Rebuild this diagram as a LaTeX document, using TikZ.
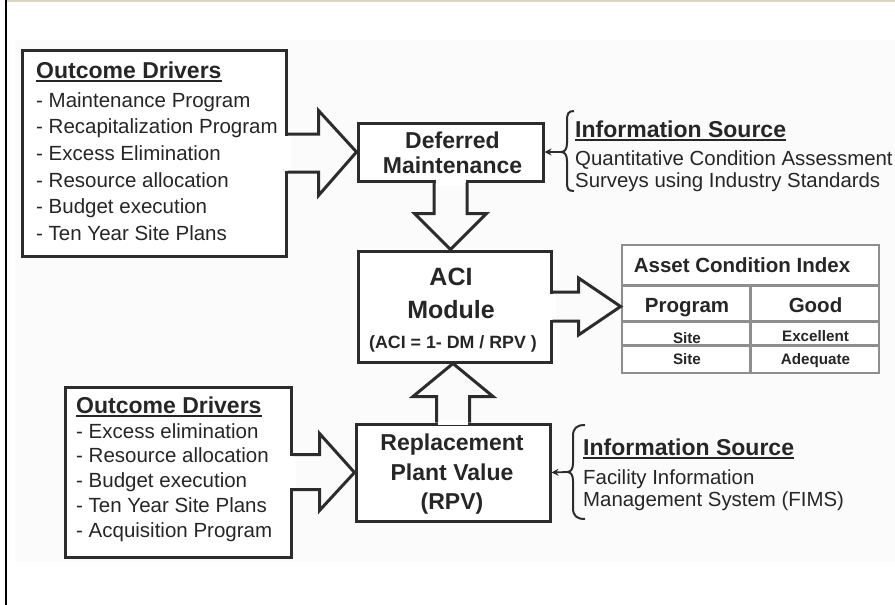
\documentclass[tikz,border=0pt]{standalone}
\usepackage{fontspec}
\setmainfont{Liberation Sans}
\usetikzlibrary{calc,arrows.meta}
\definecolor{ink}{HTML}{262626}
\definecolor{lineink}{HTML}{2C2C2C}
\definecolor{tgray}{HTML}{8E8E8E}
\definecolor{beige}{HTML}{DCD4C4}
\definecolor{bgtone}{HTML}{FBFBFB}
\begin{document}
\begin{tikzpicture}[x=1pt,y=-1pt,
  box/.style={draw=lineink, line width=3pt, fill=white, inner sep=0pt},
  blk/.style={draw=lineink, line width=3pt, line join=miter},
  ttl/.style={text=ink, inner sep=0pt, font=\bfseries\fontsize{23}{26}\selectfont},
  lst/.style={text=ink, inner sep=0pt, font=\fontsize{20.5}{25}\selectfont},
  src/.style={text=ink, inner sep=0pt, font=\fontsize{20.4}{24}\selectfont},
  bt/.style={text=ink, inner sep=0pt, font=\bfseries\fontsize{23}{26}\selectfont},
  bbig/.style={text=ink, inner sep=0pt, font=\bfseries\fontsize{25}{28}\selectfont},
  bsmall/.style={text=ink, inner sep=0pt, font=\bfseries\fontsize{17.8}{20}\selectfont},
  tbig/.style={text=ink, inner sep=0pt, font=\bfseries\fontsize{20.5}{24}\selectfont},
  tsmall/.style={text=ink, inner sep=0pt, font=\bfseries\fontsize{15.2}{18}\selectfont},
  uline/.style={draw=ink, line width=2pt},
  tline/.style={draw=tgray, line width=2.4pt},
  brc/.style={draw=lineink, line width=2pt},
  sarr/.style={draw=lineink, line width=1.8pt, -{Stealth[length=7pt,width=7pt]}}]
\useasboundingbox (0,0) rectangle (895,605);
% page frame
\fill[white] (0,0) rectangle (895,605);
\fill[bgtone] (15,40) rectangle (895,562);
\draw[beige, line width=2pt] (6,1) -- (895,1);
\draw[black, line width=2pt] (6,0) -- (6,605);

% main boxes
\node[box, minimum width=264pt, minimum height=206pt] (od1) at (154,153) {};
\node[box, minimum width=185pt, minimum height=58pt] (dm) at (450.5,152) {};
\node[box, minimum width=193pt, minimum height=111pt] (aci) at (454.5,306.5) {};
\node[box, minimum width=194pt, minimum height=97pt] (rpv) at (453,472.5) {};
\node[box, minimum width=226pt, minimum height=170pt] (od2) at (178,472) {};
\node[draw=tgray, line width=2.8pt, fill=white, inner sep=0pt, minimum width=257pt, minimum height=128pt] (tbl) at (750.5,309) {};

% block arrows
\fill[white] ($(od1.east)+(-2.5,-17.5)$) rectangle ($(od1.east)+(3,17.5)$);
\draw[blk] ($(od1.east)+(0,-19)$) -- ++(31,0) -- ++(0,-23.5) -- (dm.west)
  -- ($(od1.east)+(31,42.5)$) -- ++(0,-23.5) -- ($(od1.east)+(0,19)$);

\fill[white] ($(dm.south)+(-15,-2.5)$) rectangle ($(dm.south)+(15,3)$);
\draw[blk] ($(dm.south)+(-16.5,0)$) -- ++(0,31) -- ++(-19.5,0) -- (dm.south |- aci.north)
  -- ($(dm.south)+(36,31)$) -- ++(-19.5,0) -- ($(dm.south)+(16.5,0)$);

\fill[white] ($(rpv.north)+(-15,-3)$) rectangle ($(rpv.north)+(15,2.5)$);
\draw[blk] ($(rpv.north)+(-16.5,0)$) -- ++(0,-26) -- ++(-23.5,0) -- (rpv.north |- aci.south)
  -- ($(rpv.north)+(40,-26)$) -- ++(-23.5,0) -- ($(rpv.north)+(16.5,0)$);

\fill[white] ($(aci.east)+(-2.5,-13)$) rectangle ($(aci.east)+(3,13)$);
\draw[blk] ($(aci.east)+(0,-14.5)$) -- ++(26,0) -- ++(0,-14) -- (aci.east -| tbl.west)
  -- ($(aci.east)+(26,28.5)$) -- ++(0,-14) -- ($(aci.east)+(0,14.5)$);

\fill[white] ($(od2.east)+(-2.5,-16)$) rectangle ($(od2.east)+(3,16)$);
\draw[blk] ($(od2.east)+(0,-17.5)$) -- ++(27,0) -- ++(0,-21) -- (rpv.west)
  -- ($(od2.east)+(27,38.5)$) -- ++(0,-21) -- ($(od2.east)+(0,17.5)$);

% outcome drivers 1
\node[ttl, anchor=base west] (od1t) at (36,78) {Outcome Drivers};
\draw[uline] ($(od1t.base west)+(0,3)$) -- ($(od1t.base east)+(0,3)$);
\foreach \t [count=\i] in {Maintenance Program, Recapitalization Program, Excess Elimination, Resource allocation, Budget execution, Ten Year Site Plans}
  \node[lst, anchor=base west] (od1l\i) at (36,{107+26.7*(\i-1)}) {- \t};

% outcome drivers 2
\node[ttl, anchor=base west] (od2t) at (76,413) {Outcome Drivers};
\draw[uline] ($(od2t.base west)+(0,3)$) -- ($(od2t.base east)+(0,3)$);
\foreach \t [count=\i] in {Excess elimination, Resource allocation, Budget execution, Ten Year Site Plans, Acquisition Program}
  \node[lst, anchor=base west] (od2l\i) at (76,{438+24.8*(\i-1)}) {- \t};

% box texts
\node[bt, anchor=base] (dmt1) at (452.5,148) {Deferred};
\node[bt, anchor=base] (dmt2) at (452.5,173) {Maintenance};
\node[bbig, anchor=base] (acit1) at (451,285) {ACI};
\node[bbig, anchor=base] (acit2) at (451,318) {Module};
\node[bsmall, anchor=base] (acit3) at (453,348) {(ACI = 1- DM / RPV )};
\node[bt, anchor=base] (rpvt1) at (452,450) {Replacement};
\node[bt, anchor=base] (rpvt2) at (452,480) {Plant Value};
\node[bt, anchor=base] (rpvt3) at (452,509) {(RPV)};

% table
\draw[tline] ($(tbl.north west)+(0,42)$) -- ($(tbl.north east)+(0,42)$);
\draw[tline] ($(tbl.north west)+(0,78)$) -- ($(tbl.north east)+(0,78)$);
\draw[tline] ($(tbl.north west)+(0,102)$) -- ($(tbl.north east)+(0,102)$);
\draw[tline] ($(tbl.north west)+(130,42)$) -- ($(tbl.south west)+(130,0)$);
\node[tbig, anchor=base] (tt) at (742,272) {Asset Condition Index};
\node[tbig, anchor=base] (th1) at (687,312) {Program};
\node[tbig, anchor=base] (th2) at (815.5,312) {Good};
\node[tsmall, anchor=base] (tc11) at (687,343) {Site};
\node[tsmall, anchor=base] (tc12) at (815.5,341) {Excellent};
\node[tsmall, anchor=base] (tc21) at (687,364) {Site};
\node[tsmall, anchor=base] (tc22) at (815.5,364) {Adequate};

% information source 1
\coordinate (b1) at (561,152);
\draw[brc] (574,111) .. controls (568,111) and (567,114) .. (567,121) -- (567,143)
  .. controls (567,149) and (565,152) .. (b1)
  .. controls (565,152) and (567,155) .. (567,161) -- (567,182)
  .. controls (567,189) and (568,191) .. (574,191);
\draw[sarr] (b1) -- (dm.east);
\node[ttl, anchor=base west] (is1t) at (575,137) {Information Source};
\draw[uline] ($(is1t.base west)+(0,3)$) -- ($(is1t.base east)+(0,3)$);
\node[src, anchor=base west] (is1a) at (575,165) {Quantitative Condition Assessment};
\node[src, anchor=base west] (is1b) at (575,187) {Surveys using Industry Standards};

% information source 2
\coordinate (b2) at (567,472);
\draw[brc] (585,425) .. controls (577,425) and (573,428) .. (573,436) -- (573,463)
  .. controls (573,469) and (571,472) .. (b2)
  .. controls (571,472) and (573,475) .. (573,481) -- (573,508)
  .. controls (573,516) and (577,519) .. (585,519);
\draw[sarr] (b2) -- (rpv.east);
\node[ttl, anchor=base west] (is2t) at (583,455) {Information Source};
\draw[uline] ($(is2t.base west)+(0,3)$) -- ($(is2t.base east)+(0,3)$);
\node[src, anchor=base west] (is2a) at (583,484) {Facility Information};
\node[src, anchor=base west] (is2b) at (583,506) {Management System (FIMS)};
\end{tikzpicture}
\end{document}
